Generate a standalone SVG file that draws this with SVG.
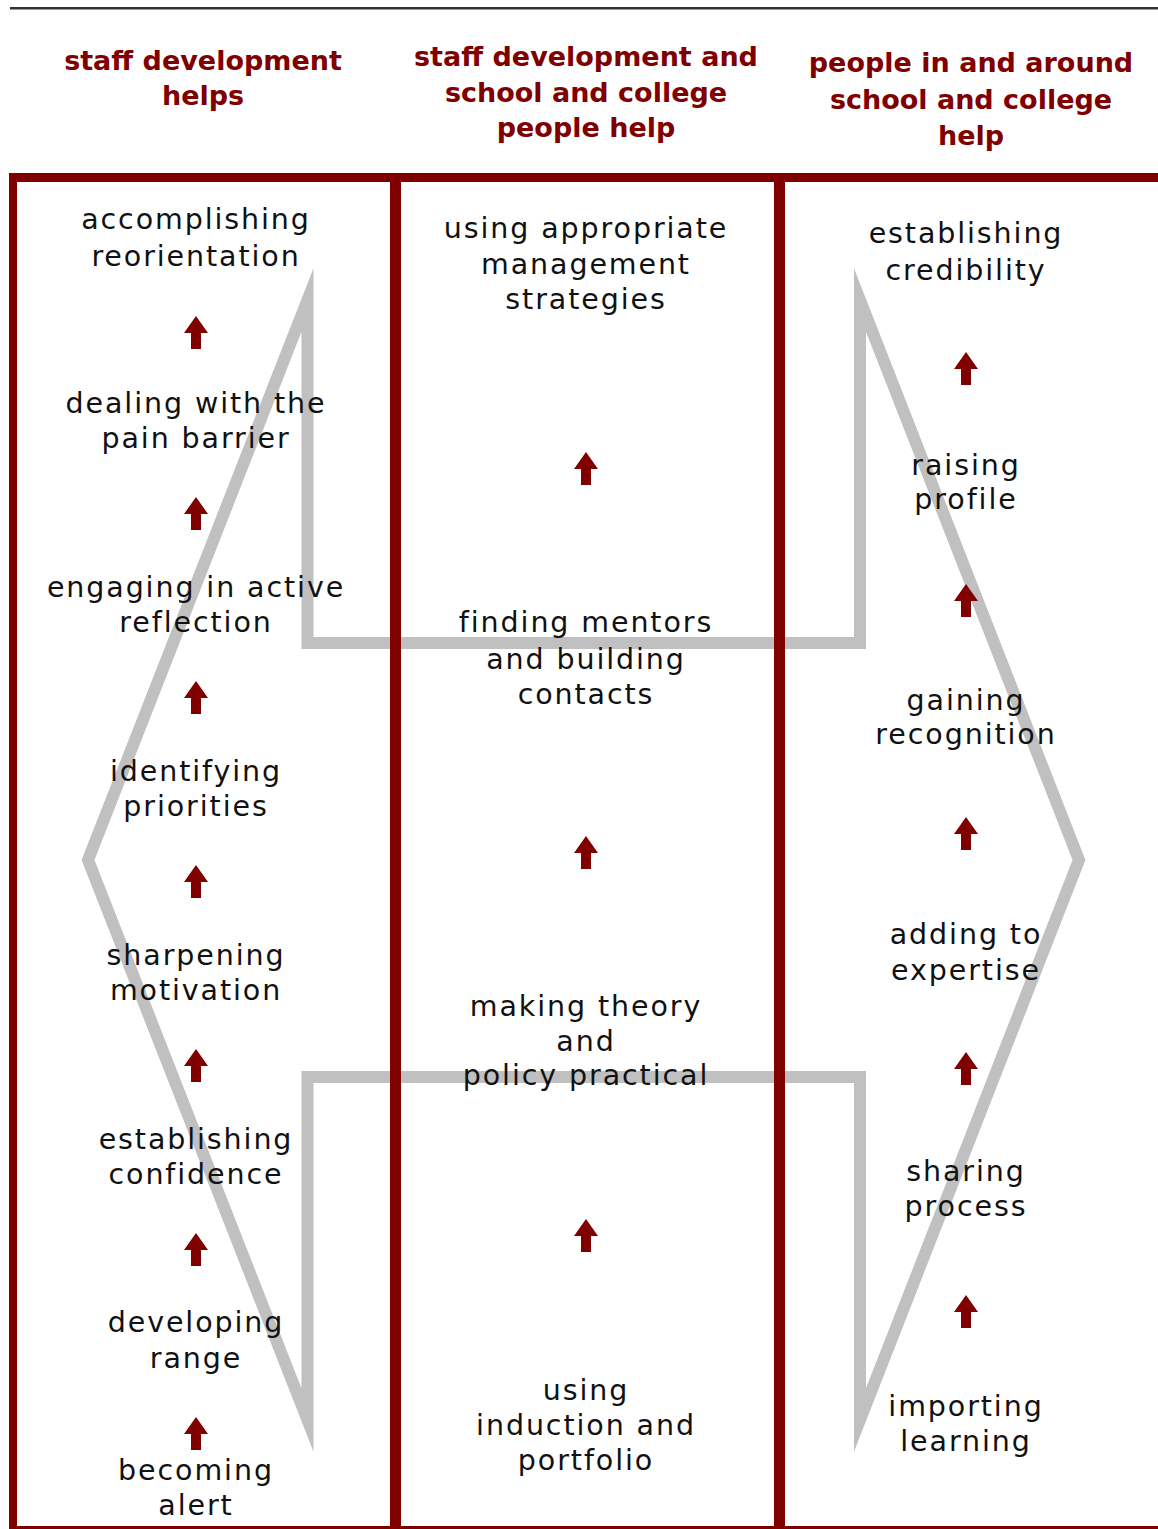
<svg xmlns="http://www.w3.org/2000/svg" xmlns:xlink="http://www.w3.org/1999/xlink" width="1158" height="1529" viewBox="0 0 1158 1529">
<style>
.hd{font-family:"DejaVu Sans","Liberation Sans",sans-serif;font-weight:bold;font-size:27px;fill:#800000;text-anchor:middle}
.tx{font-family:"DejaVu Sans","Liberation Sans",sans-serif;font-size:28.5px;fill:#111;text-anchor:middle;letter-spacing:1.9px}
.ar{fill:#800000}
.bd{fill:#800000}
</style>
<defs>
<path id="up" d="M0,0 L12,17 L5,17 L5,33 L-5,33 L-5,17 L-12,17 Z"/>
</defs>
<rect width="1158" height="1529" fill="#fff"/>
<rect x="10" y="7" width="1148" height="2.5" fill="#333"/>
<g id="headers">
<text class="hd" x="203" y="70">staff development<tspan x="203" y="105">helps</tspan></text>
<text class="hd" x="586" y="66">staff development and<tspan x="586" y="102">school and college</tspan><tspan x="586" y="137">people help</tspan></text>
<text class="hd" x="971" y="72">people in and around<tspan x="971" y="109">school and college</tspan><tspan x="971" y="145">help</tspan></text>
</g>
<path id="double-arrow" d="M88,860 L307.5,300 L307.5,643 L860,643 L860,300 L1079,860 L860,1420 L860,1077 L307.5,1077 L307.5,1420 Z" fill="none" stroke="#c0c0c0" stroke-width="12" stroke-miterlimit="10"/>
<g id="frame">
<rect class="bd" x="9" y="173" width="1149" height="9"/>
<rect class="bd" x="9" y="173" width="8" height="1356"/>
<rect class="bd" x="390" y="173" width="11" height="1356"/>
<rect class="bd" x="774" y="173" width="11" height="1356"/>
<rect class="bd" x="9" y="1526" width="1149" height="3"/>
</g>
<g id="col1">
<g id="n-accomplishing"><text class="tx" x="196" y="229">accomplishing<tspan x="196" y="266">reorientation</tspan></text></g>
<g id="n-dealing"><text class="tx" x="196" y="413">dealing with the<tspan x="196" y="448">pain barrier</tspan></text></g>
<g id="n-engaging"><text class="tx" x="196" y="597">engaging in active<tspan x="196" y="632">reflection</tspan></text></g>
<g id="n-identifying"><text class="tx" x="196" y="781">identifying<tspan x="196" y="816">priorities</tspan></text></g>
<g id="n-sharpening"><text class="tx" x="196" y="965">sharpening<tspan x="196" y="1000">motivation</tspan></text></g>
<g id="n-establishing-conf"><text class="tx" x="196" y="1149">establishing<tspan x="196" y="1184">confidence</tspan></text></g>
<g id="n-developing"><text class="tx" x="196" y="1332">developing<tspan x="196" y="1368">range</tspan></text></g>
<g id="n-becoming"><text class="tx" x="196" y="1480">becoming<tspan x="196" y="1515">alert</tspan></text></g>
</g>
<g id="col2">
<g id="n-using-appropriate"><text class="tx" x="586" y="238">using appropriate<tspan x="586" y="274">management</tspan><tspan x="586" y="309">strategies</tspan></text></g>
<g id="n-finding"><text class="tx" x="586" y="632">finding mentors<tspan x="586" y="669">and building</tspan><tspan x="586" y="704">contacts</tspan></text></g>
<g id="n-making"><text class="tx" x="586" y="1016">making theory<tspan x="586" y="1051">and</tspan><tspan x="586" y="1085">policy practical</tspan></text></g>
<g id="n-using-induction"><text class="tx" x="586" y="1400">using<tspan x="586" y="1435">induction and</tspan><tspan x="586" y="1470">portfolio</tspan></text></g>
</g>
<g id="col3">
<g id="n-credibility"><text class="tx" x="966" y="243">establishing<tspan x="966" y="280">credibility</tspan></text></g>
<g id="n-raising"><text class="tx" x="966" y="475">raising<tspan x="966" y="509">profile</tspan></text></g>
<g id="n-gaining"><text class="tx" x="966" y="710">gaining<tspan x="966" y="744">recognition</tspan></text></g>
<g id="n-adding"><text class="tx" x="966" y="944">adding to<tspan x="966" y="980">expertise</tspan></text></g>
<g id="n-sharing"><text class="tx" x="966" y="1181">sharing<tspan x="966" y="1216">process</tspan></text></g>
<g id="n-importing"><text class="tx" x="966" y="1416">importing<tspan x="966" y="1451">learning</tspan></text></g>
</g>
<g id="connectors" class="ar">
<use xlink:href="#up" transform="translate(196,316)"/>
<use xlink:href="#up" transform="translate(196,497)"/>
<use xlink:href="#up" transform="translate(196,681)"/>
<use xlink:href="#up" transform="translate(196,865)"/>
<use xlink:href="#up" transform="translate(196,1049)"/>
<use xlink:href="#up" transform="translate(196,1233)"/>
<use xlink:href="#up" transform="translate(196,1417)"/>
<use xlink:href="#up" transform="translate(586,452)"/>
<use xlink:href="#up" transform="translate(586,836)"/>
<use xlink:href="#up" transform="translate(586,1219)"/>
<use xlink:href="#up" transform="translate(966,352)"/>
<use xlink:href="#up" transform="translate(966,584)"/>
<use xlink:href="#up" transform="translate(966,817)"/>
<use xlink:href="#up" transform="translate(966,1052)"/>
<use xlink:href="#up" transform="translate(966,1295)"/>
</g>
</svg>
